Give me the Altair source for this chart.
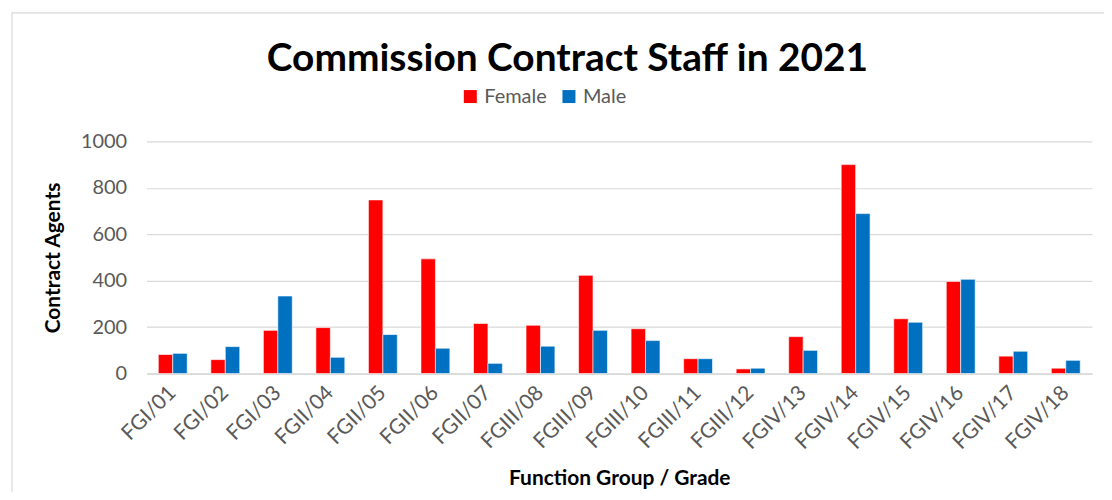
import altair as alt
import pandas as pd

grades = ["FGI/01", "FGI/02", "FGI/03", "FGII/04", "FGII/05", "FGII/06", "FGII/07",
          "FGIII/08", "FGIII/09", "FGIII/10", "FGIII/11", "FGIII/12", "FGIV/13",
          "FGIV/14", "FGIV/15", "FGIV/16", "FGIV/17", "FGIV/18"]
female = [82, 60, 186, 198, 748, 494, 216, 208, 423, 193, 64, 20, 159, 900, 236, 397, 75, 23]
male = [87, 116, 334, 70, 168, 109, 44, 118, 186, 142, 64, 23, 100, 689, 221, 406, 96, 57]

rows = []
for g, f, m in zip(grades, female, male):
    rows.append({"grade": g, "sex": "Female", "value": f})
    rows.append({"grade": g, "sex": "Male", "value": m})
df = pd.DataFrame(rows)

FONT = "Lato"

bars = alt.Chart(df).mark_bar(stroke="white", strokeWidth=0.6).encode(
    x=alt.X("grade:N", sort=grades,
            scale=alt.Scale(paddingInner=0.45, paddingOuter=0.225),
            axis=alt.Axis(title="Function Group / Grade", labelAngle=-45,
                          labelAlign="right", labelBaseline="middle",
                          labelFontSize=21, labelColor="#595959", labelFont=FONT,
                          titleFont=FONT, titleFontSize=21, titleFontWeight="bold",
                          titleColor="black", titlePadding=15,
                          ticks=False, domain=True, domainColor="#d9d9d9",
                          domainWidth=1.5, labelPadding=16)),
    xOffset=alt.XOffset("sex:N", sort=["Female", "Male"]),
    y=alt.Y("value:Q", scale=alt.Scale(domain=[0, 1000]),
            axis=alt.Axis(title="Contract Agents", values=[0, 200, 400, 600, 800, 1000],
                          format="d",
                          labelFontSize=20, labelColor="#595959", labelFont=FONT,
                          titleFont=FONT, titleFontSize=21, titleFontWeight="bold",
                          titleColor="black", titlePadding=17,
                          ticks=False, domain=False, gridColor="#d9d9d9",
                          gridWidth=1.2, labelPadding=20)),
    color=alt.Color("sex:N", sort=["Female", "Male"],
                    scale=alt.Scale(domain=["Female", "Male"], range=["#FF0000", "#0070C0"]),
                    legend=alt.Legend(title=None, orient="none", direction="horizontal",
                                      legendX=315, legendY=-55, symbolType="square",
                                      symbolSize=170, symbolStrokeWidth=0,
                                      labelFontSize=20, labelColor="#595959",
                                      labelFont=FONT, columnPadding=12, labelOffset=4)),
)

border = alt.Chart(pd.DataFrame({"a": [0]})).mark_rect(
    fill=None, stroke="#d9d9d9", strokeWidth=1.2
).encode(x=alt.value(-135), x2=alt.value(1000), y=alt.value(-129), y2=alt.value(420))

chart = alt.layer(border, bars).properties(
    width=949, height=233,
    title=alt.Title("Commission Contract Staff in 2021", font=FONT, fontSize=39,
                    fontWeight="bold", color="black", offset=-67, anchor="middle",
                    dx=-52),
    padding={"left": 139, "top": 133, "right": 12, "bottom": 118},
    autosize=alt.AutoSizeParams(type="none"),
).configure_view(stroke=None)

chart.save("out.html", embed_options={"renderer": "svg", "actions": False})
